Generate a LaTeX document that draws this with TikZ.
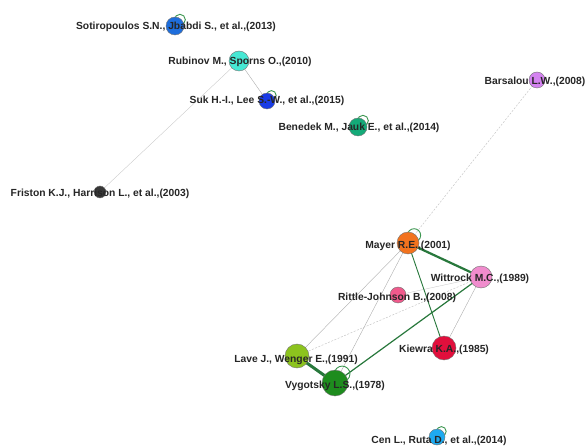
\documentclass[tikz,border=0pt]{standalone}
\usepackage{fontspec}
\setmainfont{Liberation Sans}
\usetikzlibrary{calc}
\begin{document}
\begin{tikzpicture}[x=1pt,y=-1pt,
  paper/.style={circle,draw=black!55,line width=0.4pt,inner sep=0pt},
  lbl/.style={font=\bfseries\fontsize{10.3}{11}\selectfont,text=black!85,inner sep=0pt},
  thinlink/.style={draw=black!35,line width=0.35pt},
  faintlink/.style={draw=black!22,line width=0.35pt},
  dashlink/.style={draw=black!25,line width=0.4pt,dash pattern=on 2pt off 1.5pt},
  greenlink/.style={draw=linkgreen,line width=#1},
  selfloop/.style={draw=loopgreen,line width=0.9pt}]
\definecolor{linkgreen}{RGB}{40,120,60}
\definecolor{loopgreen}{RGB}{60,150,80}
\definecolor{cSoti}{RGB}{30,110,220}
\definecolor{cRubi}{RGB}{70,232,212}
\definecolor{cSuk}{RGB}{25,60,230}
\definecolor{cBene}{RGB}{20,170,120}
\definecolor{cFris}{RGB}{55,55,55}
\definecolor{cBars}{RGB}{212,130,240}
\definecolor{cMaye}{RGB}{242,115,30}
\definecolor{cWitt}{RGB}{240,140,205}
\definecolor{cRitt}{RGB}{240,90,140}
\definecolor{cKiew}{RGB}{225,15,60}
\definecolor{cLave}{RGB}{140,195,30}
\definecolor{cVygo}{RGB}{30,140,30}
\definecolor{cCen}{RGB}{30,170,240}

\useasboundingbox[fill=white] (0,0) rectangle (586,446);

% node centres
\coordinate (soti) at (175,26);
\coordinate (rubi) at (239,61);
\coordinate (suk)  at (267,101);
\coordinate (bene) at (358,127);
\coordinate (fris) at (100,192);
\coordinate (bars) at (537,80);
\coordinate (maye) at (408,243);
\coordinate (witt) at (481,277);
\coordinate (ritt) at (398,295);
\coordinate (kiew) at (444,348);
\coordinate (lave) at (297,356);
\coordinate (vygo) at (335,383);
\coordinate (cen)  at (437,437);

% links
\draw[faintlink] (rubi) -- (fris);
\draw[thinlink] (rubi) -- (suk);
\draw[dashlink] (bars) -- (maye);
\draw[thinlink] (maye) -- (lave);
\draw[thinlink] (maye) -- (vygo);
\draw[thinlink] (witt) -- (kiew);
\draw[faintlink] (ritt) -- (witt);
\draw[dashlink] (witt) -- (lave);
\draw[greenlink=0.9pt] (maye) -- (kiew);
\draw[greenlink=1.2pt] (witt) -- (vygo);
\draw[greenlink=2.2pt] (maye) -- (witt);
\draw[greenlink=3pt] (lave) -- (vygo);

% self-citation loops
\foreach \p/\r in {soti/9,suk/8,bene/9,maye/11,vygo/13,cen/8}
  \draw[selfloop] ($(\p)+(0.55*\r,-0.7*\r)$) circle[radius=0.6*\r];

% papers
\node[paper,fill=cSoti,minimum size=18pt] (nSoti) at (soti) {};
\node[paper,fill=cRubi,minimum size=20pt] (nRubi) at (rubi) {};
\node[paper,fill=cSuk,minimum size=16pt]  (nSuk)  at (suk)  {};
\node[paper,fill=cBene,minimum size=18pt] (nBene) at (bene) {};
\node[paper,fill=cFris,minimum size=12pt] (nFris) at (fris) {};
\node[paper,fill=cBars,minimum size=16pt] (nBars) at (bars) {};
\node[paper,fill=cMaye,minimum size=22pt] (nMaye) at (maye) {};
\node[paper,fill=cWitt,minimum size=22pt] (nWitt) at (witt) {};
\node[paper,fill=cRitt,minimum size=16pt] (nRitt) at (ritt) {};
\node[paper,fill=cKiew,minimum size=24pt] (nKiew) at (kiew) {};
\node[paper,fill=cLave,minimum size=24pt] (nLave) at (lave) {};
\node[paper,fill=cVygo,minimum size=26pt] (nVygo) at (vygo) {};
\node[paper,fill=cCen,minimum size=16pt]  (nCen)  at (cen)  {};

% labels
\node[lbl] (tSoti) at (176,27)  {Sotiropoulos S.N., Jbabdi S., et al.,(2013)};
\node[lbl] (tRubi) at (240,62)  {Rubinov M., Sporns O.,(2010)};
\node[lbl] (tSuk)  at (267,101) {Suk H.-I., Lee S.-W., et al.,(2015)};
\node[lbl] (tBene) at (359,128) {Benedek M., Jauk E., et al.,(2014)};
\node[lbl] (tFris) at (100,194) {Friston K.J., Harrison L., et al.,(2003)};
\node[lbl] (tBars) at (535,82)  {Barsalou L.W.,(2008)};
\node[lbl] (tMaye) at (408,246) {Mayer R.E.,(2001)};
\node[lbl] (tWitt) at (480,279) {Wittrock M.C.,(1989)};
\node[lbl] (tRitt) at (397,298) {Rittle-Johnson B.,(2008)};
\node[lbl] (tKiew) at (444,350) {Kiewra K.A.,(1985)};
\node[lbl] (tLave) at (296,360) {Lave J., Wenger E.,(1991)};
\node[lbl] (tVygo) at (335,386) {Vygotsky L.S.,(1978)};
\node[lbl] (tCen)  at (439,441) {Cen L., Ruta D., et al.,(2014)};
\end{tikzpicture}
\end{document}
